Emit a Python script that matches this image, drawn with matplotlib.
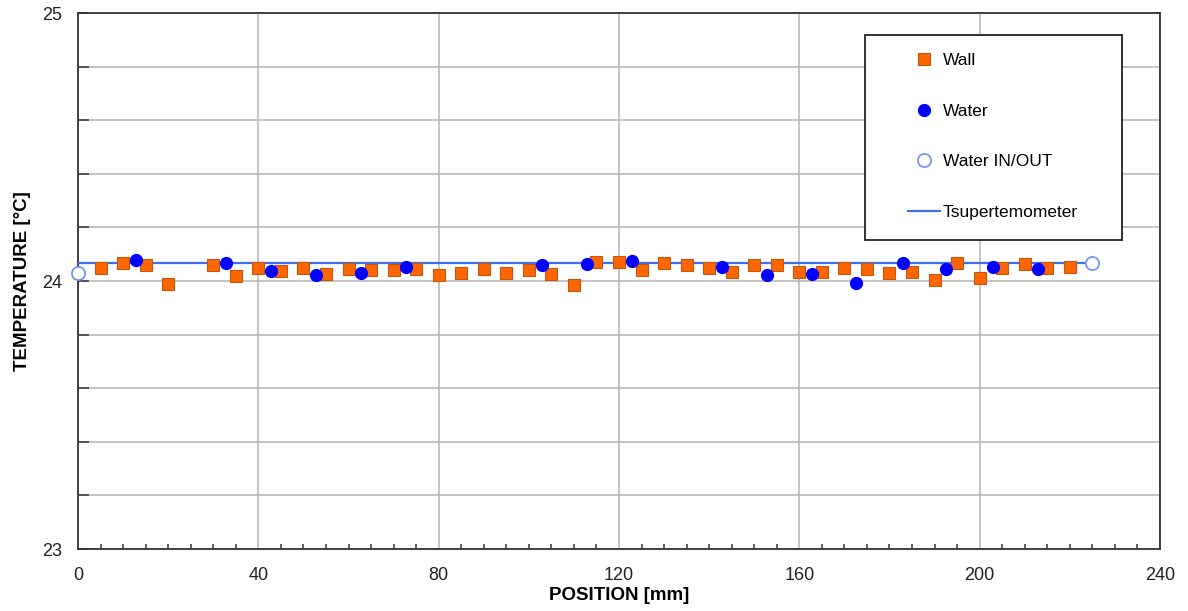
import matplotlib
matplotlib.use("Agg")
import matplotlib.pyplot as plt
from matplotlib.ticker import MultipleLocator, FuncFormatter
from matplotlib.patches import Rectangle

plt.rcParams['font.family'] = ['Liberation Sans', 'DejaVu Sans']

# Data
wall_x = [5, 10, 15, 20, 30, 35, 40, 45, 50, 55, 60, 65, 70, 75, 80, 85, 90, 95,
          100, 105, 110, 115, 120, 125, 130, 135, 140, 145, 150, 155, 160, 165,
          170, 175, 180, 185, 190, 195, 200, 205, 210, 215, 220]
wall_t = [24.048, 24.067, 24.058, 23.990, 24.060, 24.017, 24.048, 24.039, 24.048,
          24.027, 24.045, 24.040, 24.040, 24.045, 24.022, 24.031, 24.045, 24.031,
          24.040, 24.026, 23.986, 24.071, 24.071, 24.040, 24.067, 24.058, 24.048,
          24.035, 24.058, 24.058, 24.035, 24.035, 24.048, 24.045, 24.031, 24.035,
          24.005, 24.067, 24.013, 24.048, 24.063, 24.048, 24.053]

water_x = [12.9, 32.8, 42.8, 52.9, 62.8, 72.8, 102.9, 112.9, 122.9, 142.8,
           152.9, 162.9, 172.6, 182.9, 192.6, 202.9, 212.9]
water_t = [24.078, 24.067, 24.039, 24.021, 24.031, 24.052, 24.058, 24.063,
           24.076, 24.053, 24.021, 24.026, 23.991, 24.067, 24.044, 24.053, 24.044]

inout_x = [0, 225]
inout_t = [24.031, 24.067]

tsuper_x = [0, 225]
tsuper_t = [24.068, 24.068]

W, H = 1188, 611
fig = plt.figure(figsize=(W / 100, H / 100), dpi=100)
ax = fig.add_axes([78 / W, 1 - 549 / H, (1160 - 78) / W, (549 - 13) / H])

ax.plot(wall_x, wall_t, linestyle='none', marker='s', markersize=8.5,
        markerfacecolor='#FF6600', markeredgecolor='#C0560F', markeredgewidth=0.8,
        label='Wall', zorder=4)
ax.plot(water_x, water_t, linestyle='none', marker='o', markersize=8.5,
        markerfacecolor='#0000FF', markeredgecolor='#0000FF',
        label='Water', zorder=5)
ax.plot(inout_x, inout_t, linestyle='none', marker='o', markersize=9.5,
        markerfacecolor='white', markeredgecolor='#6A8FF5', markeredgewidth=1.2,
        label='Water IN/OUT', zorder=5, clip_on=False)
ax.plot(tsuper_x, tsuper_t, color='#3B6EF0', linewidth=1.6,
        label='Tsupertemometer', zorder=3)

ax.set_xlim(0, 240)
ax.set_ylim(23, 25)
ax.xaxis.set_major_locator(MultipleLocator(40))
ax.xaxis.set_minor_locator(MultipleLocator(5))
ax.yaxis.set_major_locator(MultipleLocator(0.2))
ax.yaxis.set_major_formatter(FuncFormatter(
    lambda v, p: f"{int(round(v))}" if abs(v - round(v)) < 1e-6 else ""))

ax.grid(True, which='major', color='#B4B4B4', linewidth=1.1)
ax.set_axisbelow(True)
ax.tick_params(axis='y', direction='in', length=8, width=1.1, colors='#333333',
               labelsize=13, labelcolor='#222222', pad=11.5)
ax.tick_params(axis='x', which='major', direction='in', length=0,
               labelsize=13, labelcolor='#222222', pad=13)
ax.tick_params(axis='x', which='minor', direction='in', length=3.8, width=1.1,
               colors='#333333')
for s in ax.spines.values():
    s.set_color('#333333')
    s.set_linewidth(1.3)

ax.set_xlabel('POSITION [mm]', fontsize=13.5, fontweight='bold', labelpad=2)
ax.set_ylabel('TEMPERATURE [°C]', fontsize=13.5, fontweight='bold', labelpad=8)

# legend frame (box is wider than its content in the reference)
frame = Rectangle((865 / W, 1 - 240 / H), 257 / W, 205 / H, transform=fig.transFigure,
                  facecolor='white', edgecolor='#222222', linewidth=1.3, zorder=6)
ax.add_patch(frame)
frame.set_clip_on(False)

leg = ax.legend(loc='center', bbox_to_anchor=(993 / W, 1 - 136.5 / H),
                bbox_transform=fig.transFigure,
                frameon=False, fontsize=12.5, labelspacing=2.03,
                handlelength=1.85, handletextpad=0.12, borderpad=0,
                borderaxespad=0)
leg.set_zorder(7)

fig.savefig('out.png', dpi=100)
